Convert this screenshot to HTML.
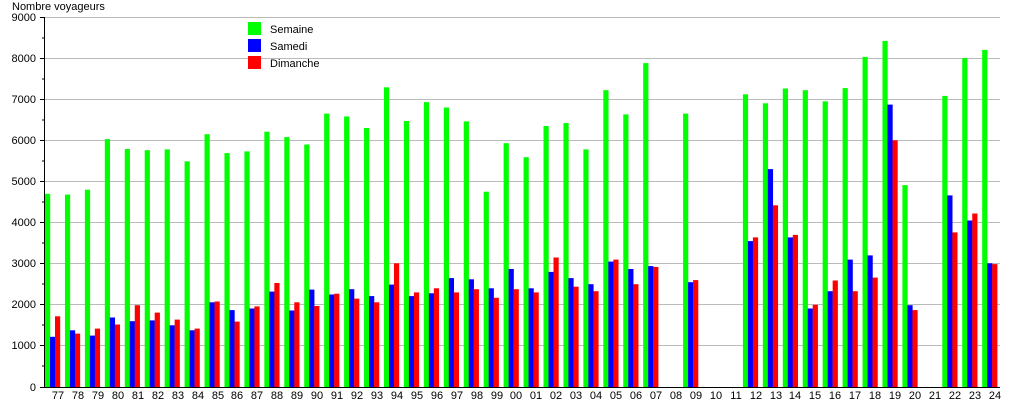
<!DOCTYPE html>
<html><head><meta charset="utf-8"><style>
body{margin:0;background:#fff}
svg{display:block;font-family:"Liberation Sans",sans-serif;font-size:11px}
</style></head><body>
<svg id="s" width="1015" height="400" xmlns="http://www.w3.org/2000/svg">
<g stroke="#bbb" stroke-width="1">
<line x1="45" y1="17.5" x2="1000" y2="17.5"/><line x1="45" y1="58.5" x2="1000" y2="58.5"/>
<line x1="45" y1="99.5" x2="1000" y2="99.5"/><line x1="45" y1="140.5" x2="1000" y2="140.5"/>
<line x1="45" y1="181.5" x2="1000" y2="181.5"/><line x1="45" y1="222.5" x2="1000" y2="222.5"/>
<line x1="45" y1="263.5" x2="1000" y2="263.5"/><line x1="45" y1="304.5" x2="1000" y2="304.5"/>
<line x1="45" y1="345.5" x2="1000" y2="345.5"/>
</g>
<g id="bars"></g>
<g stroke="#000" stroke-width="1">
<line x1="44.5" y1="17" x2="44.5" y2="388"/><line x1="44" y1="387.5" x2="1000" y2="387.5"/>
<line x1="40" y1="17.5" x2="45" y2="17.5"/><line x1="40" y1="58.5" x2="45" y2="58.5"/><line x1="40" y1="99.5" x2="45" y2="99.5"/><line x1="40" y1="140.5" x2="45" y2="140.5"/><line x1="40" y1="181.5" x2="45" y2="181.5"/><line x1="40" y1="222.5" x2="45" y2="222.5"/><line x1="40" y1="263.5" x2="45" y2="263.5"/><line x1="40" y1="304.5" x2="45" y2="304.5"/><line x1="40" y1="345.5" x2="45" y2="345.5"/><line x1="40" y1="387.5" x2="45" y2="387.5"/>
<line x1="42" y1="38" x2="45" y2="38"/><line x1="42" y1="79" x2="45" y2="79"/><line x1="42" y1="120" x2="45" y2="120"/><line x1="42" y1="161" x2="45" y2="161"/><line x1="42" y1="202" x2="45" y2="202"/><line x1="42" y1="243" x2="45" y2="243"/><line x1="42" y1="284" x2="45" y2="284"/><line x1="42" y1="325" x2="45" y2="325"/><line x1="42" y1="366" x2="45" y2="366"/>
</g>
<g text-anchor="end" fill="#000">
<text x="36" y="21">9000</text><text x="36" y="62">8000</text><text x="36" y="103">7000</text><text x="36" y="144">6000</text><text x="36" y="185">5000</text><text x="36" y="226">4000</text><text x="36" y="267">3000</text><text x="36" y="308">2000</text><text x="36" y="349">1000</text><text x="36" y="391">0</text>
</g>
<text x="12" y="10">Nombre voyageurs</text>
<g text-anchor="middle">
<text x="58" y="399">77</text><text x="78" y="399">78</text><text x="98" y="399">79</text><text x="118" y="399">80</text><text x="138" y="399">81</text><text x="158" y="399">82</text><text x="178" y="399">83</text><text x="198" y="399">84</text><text x="218" y="399">85</text><text x="237" y="399">86</text><text x="257" y="399">87</text><text x="277" y="399">88</text><text x="297" y="399">89</text><text x="317" y="399">90</text><text x="337" y="399">91</text><text x="357" y="399">92</text><text x="377" y="399">93</text><text x="397" y="399">94</text><text x="417" y="399">95</text><text x="437" y="399">96</text><text x="457" y="399">97</text><text x="477" y="399">98</text><text x="497" y="399">99</text><text x="516" y="399">00</text><text x="536" y="399">01</text><text x="556" y="399">02</text><text x="576" y="399">03</text><text x="596" y="399">04</text><text x="616" y="399">05</text><text x="636" y="399">06</text><text x="656" y="399">07</text><text x="676" y="399">08</text><text x="696" y="399">09</text><text x="716" y="399">10</text><text x="736" y="399">11</text><text x="756" y="399">12</text><text x="776" y="399">13</text><text x="795" y="399">14</text><text x="815" y="399">15</text><text x="835" y="399">16</text><text x="855" y="399">17</text><text x="875" y="399">18</text><text x="895" y="399">19</text><text x="915" y="399">20</text><text x="935" y="399">21</text><text x="955" y="399">22</text><text x="975" y="399">23</text><text x="995" y="399">24</text>
</g>
<rect x="248" y="22" width="13" height="13" fill="#00ff00"/>
<rect x="248" y="39" width="13" height="13" fill="#0000ff"/>
<rect x="248" y="56" width="13" height="13" fill="#ff0000"/>
<text x="270" y="33">Semaine</text><text x="270" y="50">Samedi</text><text x="270" y="67">Dimanche</text>
</svg>
<script>
var d=[[4700,1220,1720],[4680,1380,1300],[4800,1250,1420],[6030,1690,1520],[5790,1600,1990],[5760,1620,1810],[5780,1500,1640],[5490,1380,1420],[6150,2060,2080],[5690,1870,1590],[5730,1910,1960],[6210,2320,2530],[6080,1860,2060],[5900,2370,1970],[6650,2250,2270],[6580,2380,2150],[6300,2210,2060],[7290,2490,3010],[6470,2210,2300],[6930,2280,2400],[6800,2650,2300],[6460,2620,2380],[4750,2400,2170],[5930,2870,2380],[5590,2400,2300],[6350,2800,3150],[6420,2650,2440],[5780,2500,2330],[7220,3050,3100],[6630,2870,2500],[7880,2940,2920],[0,0,0],[6650,2550,2600],[0,0,0],[0,0,0],[7120,3550,3640],[6900,5300,4420],[7260,3640,3700],[7220,1910,2000],[6950,2330,2590],[7270,3100,2330],[8030,3200,2660],[8420,6870,6000],[4910,1990,1870],[0,0,0],[7080,4660,3760],[8000,4050,4220],[8200,3010,2990]];
var c=["#00ff00","#0000ff","#ff0000"],h="";
d.forEach(function(v,k){for(var j=0;j<3;j++){if(!v[j])continue;var x=45+k*19.94+j*5,hh=v[j]*0.04111;h+='<rect x="'+x.toFixed(2)+'" y="'+(387-hh).toFixed(1)+'" width="5.2" height="'+hh.toFixed(1)+'" fill="'+c[j]+'"/>';}});
document.getElementById("bars").innerHTML=h;
</script>
</body></html>
